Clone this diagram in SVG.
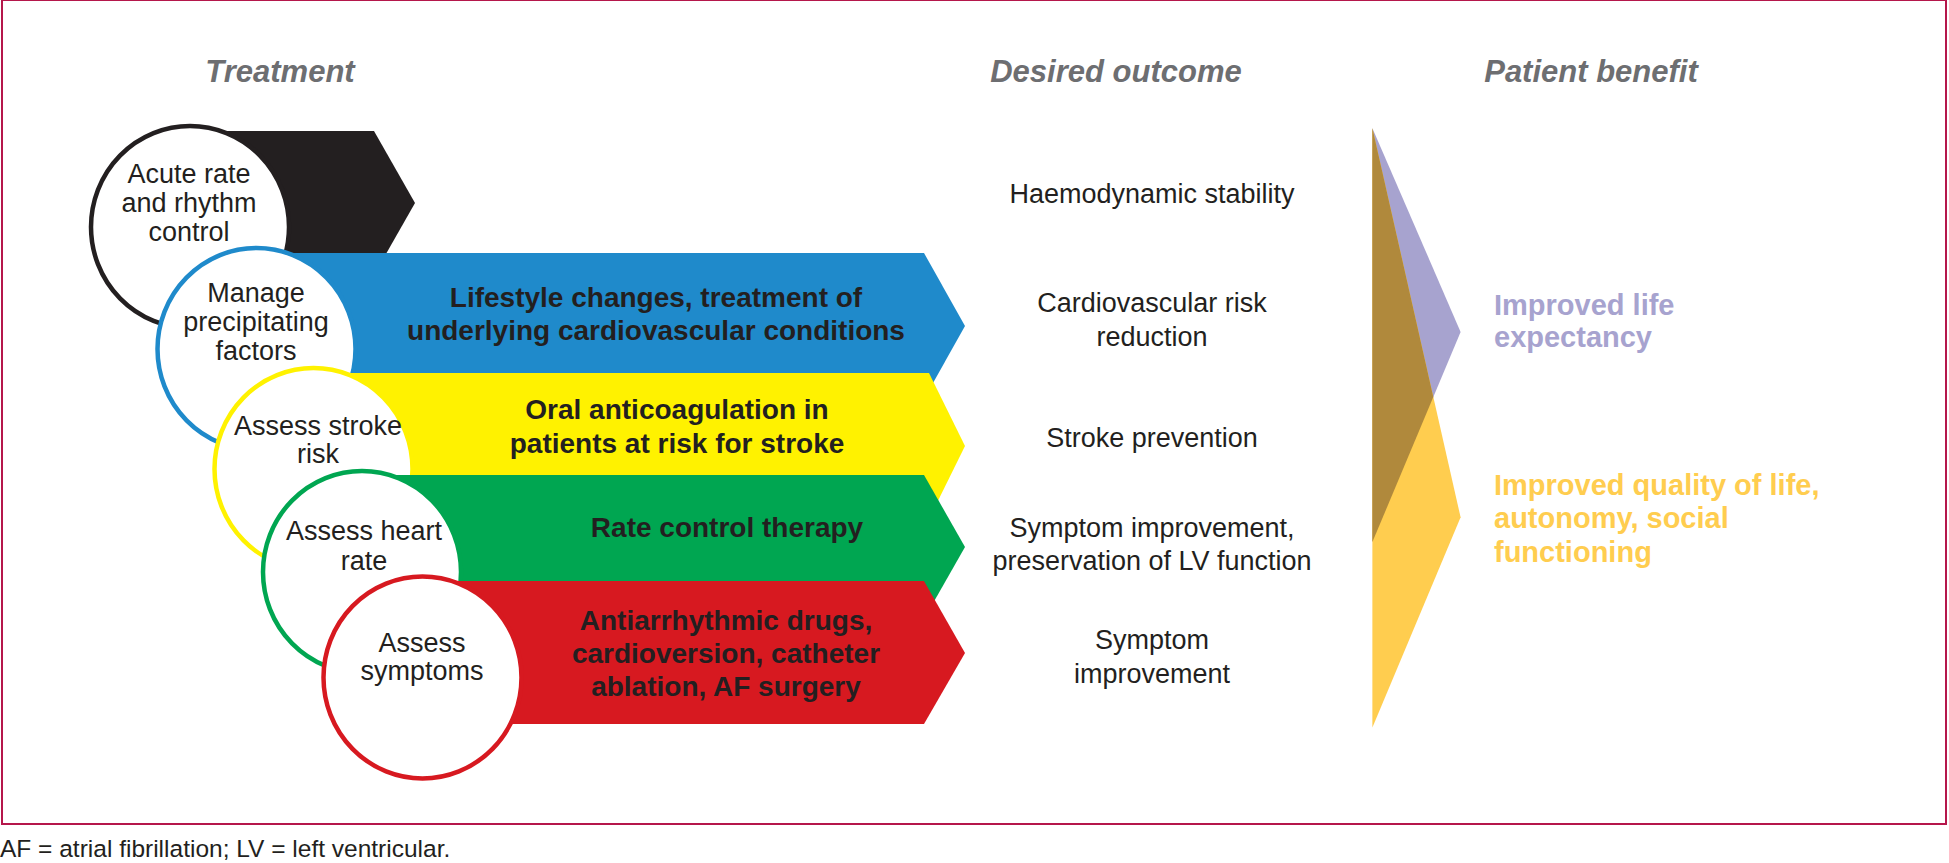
<svg xmlns="http://www.w3.org/2000/svg" width="1949" height="863" viewBox="0 0 1949 863">
<style>
.hd{font-family:"Liberation Sans",Arial,sans-serif;font-weight:bold;font-style:italic;font-size:31px;fill:#6d6e71;text-anchor:middle}
.ct{font-family:"Liberation Sans",Arial,sans-serif;font-size:27px;fill:#231f20;text-anchor:middle}
.bt{font-family:"Liberation Sans",Arial,sans-serif;font-weight:bold;font-size:28px;fill:#231f20;text-anchor:middle}
.ot{font-family:"Liberation Sans",Arial,sans-serif;font-size:27px;fill:#231f20;text-anchor:middle}
.bf{font-family:"Liberation Sans",Arial,sans-serif;font-weight:bold;font-size:29px}
.circ{fill:#ffffff;stroke-width:4.5}
</style>
<rect x="0" y="0" width="1949" height="863" fill="#ffffff"/>
<rect x="2" y="0" width="1944" height="824" fill="none" stroke="#b5174b" stroke-width="2"/>

<g id="headings">
<text class="hd" x="280" y="82">Treatment</text>
<text class="hd" x="1116" y="82">Desired outcome</text>
<text class="hd" x="1591" y="82">Patient benefit</text>
</g>

<g id="node-acute">
<polygon points="190,131 374,131 415,203 374,275 190,275" fill="#231f20"/>
<ellipse class="circ" cx="190" cy="227" rx="99" ry="101" stroke="#231f20"/>
<text class="ct" x="189" y="183">Acute rate</text>
<text class="ct" x="189" y="212">and rhythm</text>
<text class="ct" x="189" y="241">control</text>
</g>

<g id="node-precipitating">
<polygon points="256,253 924,253 965,326 924,399 256,399" fill="#1f8acb"/>
<ellipse class="circ" cx="256.5" cy="349" rx="99" ry="101" stroke="#1f8acb"/>
<text class="ct" x="256" y="302">Manage</text>
<text class="ct" x="256" y="331">precipitating</text>
<text class="ct" x="256" y="360">factors</text>
<text class="bt" x="656" y="307">Lifestyle changes, treatment of</text>
<text class="bt" x="656" y="340">underlying cardiovascular conditions</text>
</g>

<g id="node-stroke">
<polygon points="313,373 929,373 965,446 929,519 313,519" fill="#fff200"/>
<ellipse class="circ" cx="313.5" cy="469" rx="99" ry="101" stroke="#fff200"/>
<text class="ct" x="318" y="435">Assess stroke</text>
<text class="ct" x="318" y="463">risk</text>
<text class="bt" x="677" y="419">Oral anticoagulation in</text>
<text class="bt" x="677" y="453">patients at risk for stroke</text>
</g>

<g id="node-heartrate">
<polygon points="362,475 924,475 965,547 924,619 362,619" fill="#00a651"/>
<ellipse class="circ" cx="362" cy="572" rx="99" ry="101" stroke="#00a651"/>
<text class="ct" x="364" y="540">Assess heart</text>
<text class="ct" x="364" y="570">rate</text>
<text class="bt" x="727" y="537">Rate control therapy</text>
</g>

<g id="node-symptoms">
<polygon points="422,581 924,581 965,653 924,724 422,724" fill="#d71920"/>
<ellipse class="circ" cx="422.5" cy="677.5" rx="99" ry="101" stroke="#d71920"/>
<text class="ct" x="422" y="652">Assess</text>
<text class="ct" x="422" y="680">symptoms</text>
<text class="bt" x="726" y="630">Antiarrhythmic drugs,</text>
<text class="bt" x="726" y="663">cardioversion, catheter</text>
<text class="bt" x="726" y="696">ablation, AF surgery</text>
</g>

<g id="outcomes">
<text class="ot" x="1152" y="203">Haemodynamic stability</text>
<text class="ot" x="1152" y="312">Cardiovascular risk</text>
<text class="ot" x="1152" y="346">reduction</text>
<text class="ot" x="1152" y="447">Stroke prevention</text>
<text class="ot" x="1152" y="537">Symptom improvement,</text>
<text class="ot" x="1152" y="570">preservation of LV function</text>
<text class="ot" x="1152" y="649">Symptom</text>
<text class="ot" x="1152" y="683">improvement</text>
</g>

<g id="node-benefit-shapes">
<polygon points="1372.4,128.2 1460.6,331.9 1372.4,542.1" fill="#a7a3cf"/>
<polygon points="1372.4,128.2 1460.6,517.3 1372.4,727.6" fill="#ffcd4f"/>
<polygon points="1372.4,128.2 1433.3,396.9 1372.4,542.1" fill="#b0893c"/>
</g>

<g id="node-life-expectancy">
<text class="bf" x="1494" y="315" fill="#a7a3cf">Improved life</text>
<text class="bf" x="1494" y="347" fill="#a7a3cf">expectancy</text>
</g>

<g id="node-quality-of-life">
<text class="bf" x="1494" y="495" fill="#ffcd4f">Improved quality of life,</text>
<text class="bf" x="1494" y="528" fill="#ffcd4f">autonomy, social</text>
<text class="bf" x="1494" y="562" fill="#ffcd4f">functioning</text>
</g>

<text x="0" y="857" font-family="'Liberation Sans',Arial,sans-serif" font-size="24.5" fill="#231f20">AF = atrial fibrillation; LV = left ventricular.</text>
</svg>
